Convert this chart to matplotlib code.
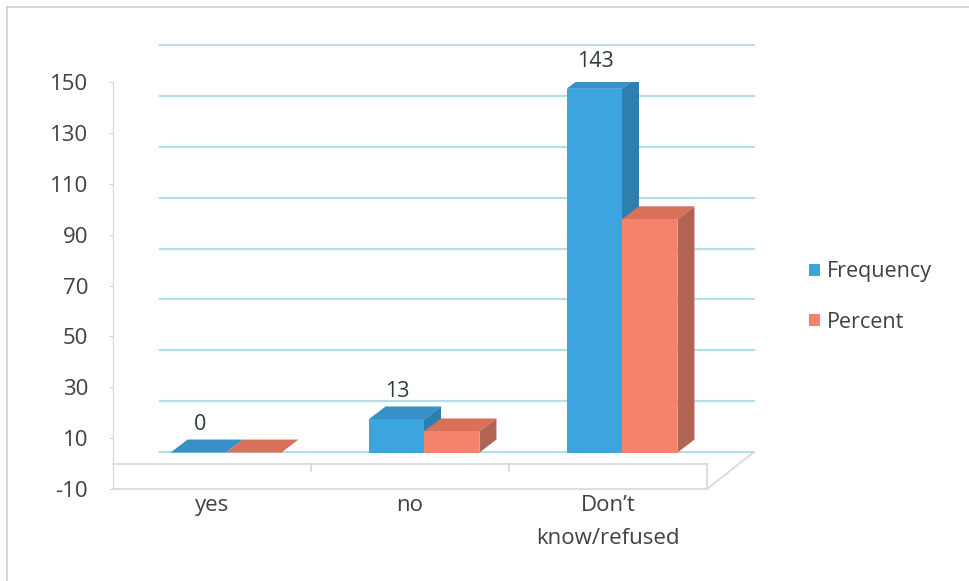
import matplotlib
matplotlib.use("Agg")
import matplotlib.pyplot as plt
import matplotlib.transforms as mtransforms
from matplotlib.patches import Polygon
from matplotlib.lines import Line2D

# ---- data ----
categories = ["yes", "no", "Don\u2019t\nknow/refused"]
frequency = [0, 13, 143]
percent = [0, 8.3, 91.7]
freq_labels = ["0", "13", "143"]
series_names = ["Frequency", "Percent"]
y_ticks = [-10, 10, 30, 50, 70, 90, 110, 130, 150]

plt.rcParams['font.family'] = ['Open Sans', 'DejaVu Sans']

W, H = 969, 581
fig = plt.figure(figsize=(W / 100, H / 100), dpi=100)
fig.patch.set_facecolor('white')

# chart frame (left and top edges visible)
fig.add_artist(Line2D([7 / W, 7 / W], [0, 1 - 7 / H], transform=fig.transFigure, color='#cfcfcf', lw=1.2))
fig.add_artist(Line2D([7 / W, 1], [1 - 7 / H, 1 - 7 / H], transform=fig.transFigure, color='#cfcfcf', lw=1.2))

ax = fig.add_axes([113 / W, (H - 489) / H, (707 - 113) / W, (489 - 82) / H])
ax.set_xlim(-0.5, 2.5)
ax.set_ylim(-10, 150)
ax.set_facecolor('none')
for s in ['top', 'right', 'bottom']:
    ax.spines[s].set_visible(False)
ax.spines['left'].set_color('#d5d5d5')

px_x = (707 - 113) / 3.0
px_y = (489 - 82) / 160.0

# offsets for 3-D look
trans_wall = mtransforms.offset_copy(ax.transData, fig=fig, x=47, y=37, units='dots')
trans_bar = mtransforms.offset_copy(ax.transData, fig=fig, x=14, y=11, units='dots')

# back wall gridlines
for t in y_ticks:
    ax.plot([-0.5, 2.5], [t, t], transform=trans_wall, color='#b3e0e4', lw=1.6, zorder=0, clip_on=False)

# floor slab
ax.plot([-0.5, 2.5], [-10, -10], color='#d8d8d8', lw=1.2, clip_on=False, zorder=1)
ax.plot([-0.5, 2.5], [0, 0], color='#d8d8d8', lw=1.2, clip_on=False, zorder=1)
ax.plot([2.5, 2.5], [-10, 0], color='#d8d8d8', lw=1.2, clip_on=False, zorder=1)
ddx_wall = 47 / px_x
ddy_wall = 37 / px_y
ax.plot([2.5, 2.5 + ddx_wall], [-10, -10 + ddy_wall], color='#d8d8d8', lw=1.2, clip_on=False, zorder=1)
for b in [0.5, 1.5]:
    ax.plot([b, b], [0, -3], color='#d8d8d8', lw=1.2, clip_on=False, zorder=1)

# bars
x = list(range(len(categories)))
bw = 0.28
ddx = 17 / px_x
ddy = 13 / px_y
front_cols = ['#3ca5e0', '#f3836a']
top_cols = ['#3591c8', '#d9705a']
side_cols = ['#2d7fb0', '#b26452']
handles = []
for si, vals in enumerate([frequency, percent]):
    xs = [xi - bw / 2 + si * bw for xi in x]
    bars = ax.bar(xs, vals, bw, color=front_cols[si], label=series_names[si], zorder=3)
    for p in bars:
        p.set_transform(trans_bar)
    handles.append(bars)
    for xc, h in zip(xs, vals):
        x0, x1 = xc - bw / 2, xc + bw / 2
        top = Polygon([(x0, h), (x1, h), (x1 + ddx, h + ddy), (x0 + ddx, h + ddy)],
                      closed=True, facecolor=top_cols[si], edgecolor='none', transform=trans_bar, zorder=2)
        side = Polygon([(x1, 0), (x1, h), (x1 + ddx, h + ddy), (x1 + ddx, ddy)],
                       closed=True, facecolor=side_cols[si], edgecolor='none', transform=trans_bar, zorder=2)
        ax.add_patch(top)
        ax.add_patch(side)

# value labels (Frequency)
for xi, h, lab in zip(x, frequency, freq_labels):
    xc = xi - bw / 2
    ax.annotate(lab, (xc, h + ddy), xycoords=trans_bar, xytext=(1, 3),
                textcoords='offset points', ha='center', va='bottom', fontsize=15.5, color='#2d3b3b')

# axes ticks
ax.set_yticks(y_ticks)
ax.set_yticklabels([str(t) for t in y_ticks])
ax.tick_params(axis='y', length=3, color='#d5d5d5', pad=15, labelsize=16, labelcolor='#404040')
ax.set_xticks(x)
ax.set_xticklabels(categories, linespacing=1.75)
ax.tick_params(axis='x', length=0, pad=4, labelsize=16, labelcolor='#404040')

# legend
leg = fig.legend(handles=handles, labels=series_names, loc='center left',
                 bbox_to_anchor=(790 / W, 1 - 297 / H), frameon=False, fontsize=15.5,
                 handlelength=0.5, handleheight=0.5, handletextpad=0.3, labelspacing=1.35)
for t in leg.get_texts():
    t.set_color('#404040')

fig.savefig('out.png', dpi=100)
